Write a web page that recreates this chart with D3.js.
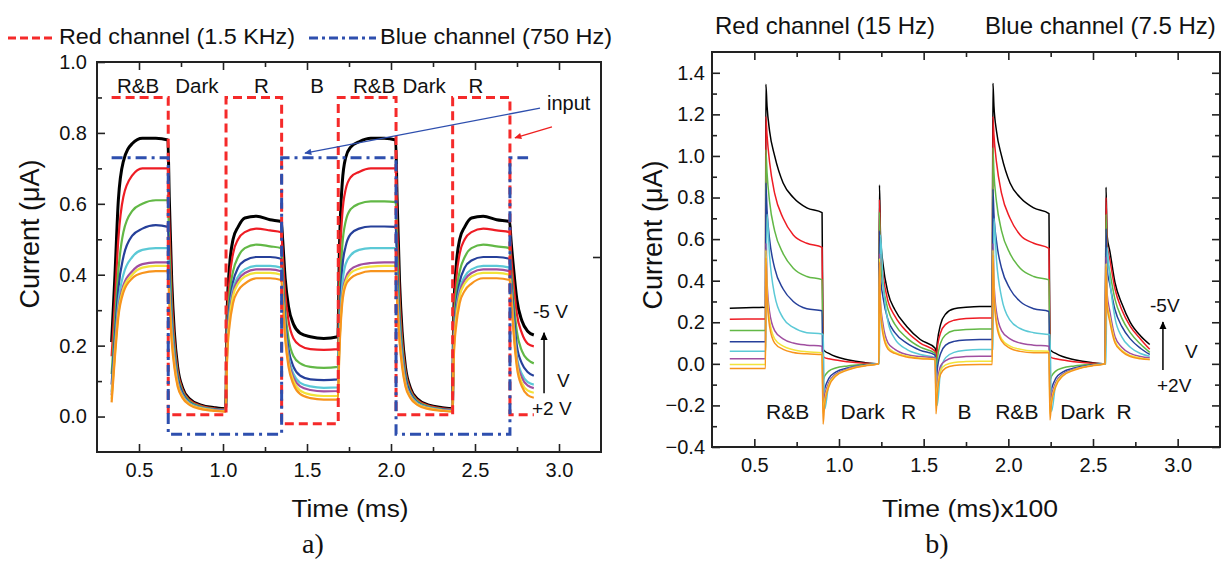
<!DOCTYPE html>
<html><head><meta charset="utf-8">
<script src="https://cdn.jsdelivr.net/npm/d3@7"></script>
<style>
body{margin:0;background:#fff}
svg{display:block}
text{font-family:"Liberation Sans",Arial,sans-serif;fill:#111}
text.serif{font-family:"Liberation Serif","DejaVu Serif",serif}
</style>
</head><body>
<svg id="c" width="1230" height="562"></svg>
<script>
// ---------------- DATA ----------------
const seriesNames = ["black","red","green","blue","cyan","magenta","yellow","orange"];
const seriesColors = ["#000000","#ee1c24","#62b846","#26409a","#5bc9d6","#a04fa0","#f2e33a","#f7941d"];

// Panel a) time axis (ms)
const timeA = [0.337,0.357,0.377,0.407,0.46,0.52,0.60,0.672,
  0.68,0.695,0.71,0.73,0.76,0.80,0.87,0.95,1.016,
  1.025,1.04,1.06,1.09,1.13,1.20,1.28,1.347,
  1.355,1.37,1.39,1.42,1.46,1.52,1.60,1.684,
  1.692,1.71,1.73,1.76,1.81,1.88,1.96,2.028,
  2.036,2.051,2.066,2.086,2.116,2.156,2.226,2.306,2.365,
  2.374,2.389,2.409,2.439,2.479,2.549,2.629,2.706,
  2.714,2.729,2.749,2.779,2.815,2.85];
const curveA_black = [0.21,0.40,0.61,0.72,0.77,0.785,0.785,0.78,
  0.62,0.38,0.24,0.14,0.08,0.05,0.032,0.025,0.022,
  0.30,0.43,0.50,0.535,0.56,0.565,0.555,0.55,
  0.50,0.39,0.31,0.26,0.235,0.225,0.22,0.225,
  0.45,0.66,0.73,0.76,0.775,0.785,0.785,0.78,
  0.62,0.38,0.24,0.14,0.08,0.05,0.032,0.025,0.022,
  0.30,0.43,0.50,0.535,0.56,0.565,0.555,0.55,
  0.50,0.42,0.33,0.27,0.24,0.23];
const curveA_red = [0.17,0.33,0.50,0.62,0.68,0.70,0.70,0.70,
  0.55,0.34,0.22,0.13,0.075,0.047,0.03,0.023,0.02,
  0.27,0.39,0.46,0.50,0.52,0.53,0.525,0.52,
  0.46,0.35,0.27,0.22,0.20,0.19,0.188,0.19,
  0.38,0.57,0.64,0.675,0.69,0.70,0.70,0.70,
  0.55,0.34,0.22,0.13,0.075,0.047,0.03,0.023,0.02,
  0.27,0.39,0.46,0.50,0.52,0.53,0.525,0.52,
  0.46,0.38,0.29,0.235,0.205,0.198];
const curveA_green = [0.12,0.27,0.41,0.52,0.58,0.60,0.61,0.61,
  0.48,0.30,0.20,0.12,0.07,0.044,0.028,0.021,0.019,
  0.24,0.35,0.41,0.45,0.475,0.485,0.48,0.475,
  0.41,0.30,0.22,0.17,0.15,0.14,0.137,0.14,
  0.30,0.48,0.55,0.585,0.60,0.607,0.607,0.605,
  0.48,0.30,0.20,0.12,0.07,0.044,0.028,0.021,0.019,
  0.24,0.35,0.41,0.45,0.475,0.485,0.48,0.475,
  0.42,0.33,0.24,0.185,0.16,0.15];
const curveA_blue = [0.09,0.23,0.36,0.45,0.51,0.53,0.54,0.535,
  0.42,0.27,0.18,0.11,0.065,0.04,0.026,0.02,0.018,
  0.22,0.32,0.38,0.42,0.44,0.45,0.45,0.445,
  0.38,0.27,0.19,0.14,0.115,0.105,0.103,0.105,
  0.25,0.42,0.48,0.515,0.53,0.536,0.536,0.535,
  0.42,0.27,0.18,0.11,0.065,0.04,0.026,0.02,0.018,
  0.22,0.32,0.38,0.42,0.44,0.45,0.45,0.445,
  0.39,0.30,0.20,0.15,0.125,0.115];
const curveA_cyan = [0.07,0.20,0.32,0.40,0.45,0.47,0.475,0.475,
  0.38,0.25,0.17,0.10,0.06,0.038,0.025,0.019,0.017,
  0.20,0.30,0.36,0.395,0.415,0.425,0.425,0.42,
  0.36,0.25,0.17,0.12,0.095,0.085,0.081,0.082,
  0.21,0.37,0.43,0.455,0.47,0.475,0.475,0.475,
  0.38,0.25,0.17,0.10,0.06,0.038,0.025,0.019,0.017,
  0.20,0.30,0.36,0.395,0.415,0.425,0.425,0.42,
  0.37,0.27,0.17,0.12,0.097,0.09];
const curveA_magenta = [0.06,0.19,0.30,0.37,0.41,0.43,0.435,0.435,
  0.35,0.23,0.16,0.095,0.057,0.036,0.024,0.018,0.016,
  0.19,0.29,0.35,0.385,0.405,0.415,0.415,0.41,
  0.35,0.24,0.16,0.11,0.085,0.075,0.071,0.072,
  0.19,0.34,0.39,0.415,0.427,0.433,0.435,0.435,
  0.35,0.23,0.16,0.095,0.057,0.036,0.024,0.018,0.016,
  0.19,0.29,0.35,0.385,0.405,0.415,0.415,0.41,
  0.36,0.26,0.16,0.11,0.087,0.08];
const curveA_yellow = [0.05,0.18,0.29,0.36,0.40,0.42,0.425,0.425,
  0.34,0.22,0.15,0.09,0.055,0.035,0.023,0.017,0.015,
  0.18,0.28,0.34,0.375,0.395,0.405,0.405,0.40,
  0.34,0.23,0.15,0.10,0.073,0.062,0.058,0.058,
  0.18,0.33,0.38,0.405,0.417,0.423,0.425,0.425,
  0.34,0.22,0.15,0.09,0.055,0.035,0.023,0.017,0.015,
  0.18,0.28,0.34,0.375,0.395,0.405,0.405,0.40,
  0.35,0.25,0.15,0.095,0.073,0.067];
const curveA_orange = [0.04,0.17,0.28,0.35,0.39,0.405,0.41,0.41,
  0.33,0.21,0.14,0.085,0.052,0.033,0.021,0.016,0.014,
  0.17,0.26,0.32,0.355,0.375,0.39,0.39,0.385,
  0.33,0.22,0.14,0.09,0.063,0.052,0.048,0.048,
  0.17,0.32,0.37,0.39,0.403,0.41,0.41,0.41,
  0.33,0.21,0.14,0.085,0.052,0.033,0.021,0.016,0.014,
  0.17,0.26,0.32,0.355,0.375,0.39,0.39,0.385,
  0.34,0.24,0.14,0.085,0.06,0.053];

// Panel a) input square waves
const redInputTime  = [0.337,0.674,0.674,1.018,1.018,1.349,1.349,1.686,1.686,2.03,2.03,2.367,2.367,2.708,2.708,2.85];
const redInputValue = [0.9,0.9,0.005,0.005,0.9,0.9,-0.02,-0.02,0.9,0.9,0.005,0.005,0.9,0.9,0.005,0.005];
const blueInputTime  = [0.337,0.674,0.674,1.349,1.349,2.03,2.03,2.708,2.708,2.816];
const blueInputValue = [0.73,0.73,-0.05,-0.05,0.73,0.73,-0.05,-0.05,0.73,0.73];

// Panel b) time axis (ms x100)
const timeB = [0.355,0.45,0.566, 0.568,
  0.575,0.59,0.62,0.67,0.73,0.81,0.90, 0.906,
  0.915,0.94,0.98,1.05,1.15,1.235, 1.239,
  1.245,1.26,1.29,1.33,1.40,1.48,1.568, 1.573,
  1.58,1.60,1.63,1.68,1.75,1.83,1.905, 1.909,
  1.915,1.93,1.96,2.01,2.07,2.15,2.24, 2.246,
  2.255,2.28,2.32,2.39,2.49,2.572, 2.577,
  2.583,2.60,2.63,2.67,2.72,2.78,2.835];
const curveB_black = [0.268,0.27,0.272, 1.345,
  1.24,1.12,1.00,0.87,0.80,0.75,0.727, 0.07,
  0.062,0.05,0.035,0.02,0.006,0.0, 0.86,
  0.62,0.48,0.34,0.26,0.18,0.117,0.075, 0.035,
  0.10,0.19,0.24,0.265,0.272,0.276,0.276, 1.35,
  1.24,1.12,1.00,0.87,0.80,0.75,0.723, 0.07,
  0.062,0.05,0.035,0.02,0.006,0.0, 0.85,
  0.62,0.54,0.39,0.29,0.20,0.135,0.093];
const curveB_red = [0.215,0.216,0.216, 1.19,
  1.10,0.97,0.82,0.70,0.62,0.58,0.56, 0.035,
  0.03,0.025,0.018,0.01,0.003,0.0, 0.79,
  0.56,0.43,0.30,0.23,0.155,0.10,0.06, 0.0,
  0.07,0.15,0.19,0.21,0.218,0.22,0.22, 1.19,
  1.10,0.97,0.82,0.70,0.62,0.58,0.555, 0.035,
  0.03,0.025,0.018,0.01,0.003,0.0, 0.80,
  0.58,0.50,0.36,0.26,0.18,0.12,0.07];
const curveB_green = [0.16,0.16,0.16, 1.03,
  0.92,0.78,0.64,0.53,0.46,0.42,0.405, -0.08,
  -0.06,-0.035,-0.02,-0.01,-0.003,0.0, 0.73,
  0.50,0.38,0.26,0.19,0.125,0.08,0.05, -0.04,
  0.02,0.10,0.14,0.16,0.165,0.168,0.168, 1.04,
  0.92,0.78,0.64,0.53,0.46,0.42,0.404, -0.08,
  -0.06,-0.035,-0.02,-0.01,-0.003,0.0, 0.72,
  0.52,0.44,0.31,0.22,0.15,0.095,0.055];
const curveB_blue = [0.106,0.106,0.106, 0.87,
  0.74,0.60,0.46,0.36,0.30,0.265,0.255, -0.15,
  -0.12,-0.07,-0.04,-0.02,-0.006,0.0, 0.64,
  0.42,0.32,0.21,0.15,0.10,0.065,0.042, -0.10,
  -0.03,0.05,0.09,0.108,0.115,0.117,0.117, 0.84,
  0.72,0.59,0.46,0.36,0.30,0.265,0.252, -0.15,
  -0.12,-0.07,-0.04,-0.02,-0.006,0.0, 0.65,
  0.46,0.38,0.26,0.18,0.12,0.075,0.045];
const curveB_cyan = [0.061,0.061,0.061, 0.061,
  0.72,0.52,0.33,0.22,0.175,0.15,0.144, 0.14,
  -0.22,-0.10,-0.05,-0.025,-0.008,0.0, 0.0,
  0.62,0.40,0.20,0.12,0.07,0.045,0.03, -0.05,
  -0.20,-0.03,0.03,0.055,0.065,0.069,0.069, 0.07,
  0.70,0.50,0.32,0.21,0.17,0.15,0.141, 0.14,
  -0.23,-0.10,-0.05,-0.025,-0.008,0.0, 0.0,
  0.56,0.40,0.22,0.13,0.08,0.05,0.037];
const curveB_magenta = [0.024,0.024,0.024, 0.58,
  0.40,0.25,0.16,0.12,0.10,0.09,0.085, -0.19,
  -0.15,-0.09,-0.05,-0.025,-0.008,0.0, 0.53,
  0.30,0.19,0.10,0.07,0.045,0.035,0.028, -0.16,
  -0.10,-0.01,0.015,0.03,0.035,0.037,0.037, 0.58,
  0.40,0.25,0.16,0.12,0.10,0.09,0.085, -0.19,
  -0.15,-0.09,-0.05,-0.025,-0.008,0.0, 0.515,
  0.34,0.25,0.13,0.08,0.05,0.035,0.029];
const curveB_yellow = [-0.003,-0.003,-0.003, 0.547,
  0.36,0.21,0.12,0.085,0.068,0.058,0.053, -0.24,
  -0.18,-0.10,-0.055,-0.028,-0.009,0.0, 0.507,
  0.28,0.16,0.08,0.055,0.038,0.028,0.022, -0.20,
  -0.13,-0.03,-0.005,0.007,0.011,0.013,0.013, 0.547,
  0.36,0.21,0.12,0.085,0.07,0.062,0.061, -0.24,
  -0.18,-0.10,-0.055,-0.028,-0.009,0.0, 0.483,
  0.30,0.22,0.11,0.065,0.04,0.028,0.021];
const curveB_orange = [-0.022,-0.022,-0.022, 0.51,
  0.33,0.18,0.10,0.07,0.055,0.048,0.045, -0.29,
  -0.20,-0.11,-0.06,-0.03,-0.01,0.0, 0.49,
  0.26,0.14,0.07,0.05,0.033,0.025,0.021, -0.24,
  -0.15,-0.05,-0.02,-0.008,-0.004,-0.003,-0.003, 0.523,
  0.34,0.19,0.11,0.075,0.06,0.053,0.053, -0.27,
  -0.19,-0.11,-0.06,-0.03,-0.01,0.0, 0.468,
  0.28,0.20,0.10,0.06,0.035,0.025,0.021];

// tick values
const xMajor = [0.5,1.0,1.5,2.0,2.5,3.0];
const xMinor = [0.75,1.25,1.75,2.25,2.75];
const yMajorA = [0.0,0.2,0.4,0.6,0.8,1.0];
const yMinorA = [0.1,0.3,0.5,0.7,0.9];
const yMajorB = [-0.4,-0.2,0.0,0.2,0.4,0.6,0.8,1.0,1.2,1.4];
const yMinorB = [-0.3,-0.1,0.1,0.3,0.5,0.7,0.9,1.1,1.3];
const rightTicksA = [0.45];

// region labels
const regionLabelsA = ["R&B","Dark","R","B","R&B","Dark","R"];
const regionPosA = [0.494,0.845,1.228,1.560,1.899,2.197,2.506];
const regionLabelsB = ["R&B","Dark","R","B","R&B","Dark","R"];
const regionPosB = [0.697,1.140,1.411,1.741,2.050,2.437,2.683];

// ---------------- DRAW ----------------
const curvesA = [curveA_black,curveA_red,curveA_green,curveA_blue,curveA_cyan,curveA_magenta,curveA_yellow,curveA_orange];
const curvesB = [curveB_black,curveB_red,curveB_green,curveB_blue,curveB_cyan,curveB_magenta,curveB_yellow,curveB_orange];

const svg = d3.select("#c");
const defs = svg.append("defs");
function marker(id, color, w, h){
  defs.append("marker").attr("id",id).attr("viewBox","0 0 10 10")
    .attr("refX",9).attr("refY",5).attr("markerWidth",w).attr("markerHeight",h)
    .attr("markerUnits","userSpaceOnUse").attr("orient","auto")
    .append("path").attr("d","M0,0.5 L10,5 L0,9.5 Z").attr("fill",color);
}
marker("arBlue","#2e4fae",11,7);
marker("arRed","#ee2020",11,7);
marker("arBlack","#000",8,9);

const xA = d3.scaleLinear().domain([0.25,3.25]).range([97,601]);
const yA = d3.scaleLinear().domain([-0.1,1.0]).range([452,62]);
const xB = d3.scaleLinear().domain([0.25,3.25]).range([712,1220]);
const yB = d3.scaleLinear().domain([-0.4,1.5]).range([447,52]);

function axes(x, y, yMaj, yMin, ypad, rightTicks){
  const [x0,x1] = x.range(), [y0,y1] = y.range();
  const g = svg.append("g");
  const style = s => { s.select(".domain").remove(); s.selectAll("line").attr("stroke","#222").attr("stroke-width",1.6); s.selectAll("text").attr("font-size",20).attr("fill","#111"); };
  g.append("g").attr("transform",`translate(0,${y0})`).call(d3.axisBottom(x).tickValues(xMajor).tickSize(-8).tickPadding(11).tickFormat(d3.format(".1f"))).call(style);
  g.append("g").attr("transform",`translate(0,${y0})`).call(d3.axisBottom(x).tickValues(xMinor).tickSize(-5).tickFormat("")).call(style);
  g.append("g").attr("transform",`translate(0,${y1})`).call(d3.axisTop(x).tickValues(xMajor).tickSize(-8).tickFormat("")).call(style);
  g.append("g").attr("transform",`translate(0,${y1})`).call(d3.axisTop(x).tickValues(xMinor).tickSize(-5).tickFormat("")).call(style);
  g.append("g").attr("transform",`translate(${x0},0)`).call(d3.axisLeft(y).tickValues(yMaj).tickSize(-8).tickPadding(ypad).tickFormat(d3.format(".1f"))).call(style);
  g.append("g").attr("transform",`translate(${x0},0)`).call(d3.axisLeft(y).tickValues(yMin).tickSize(-5).tickFormat("")).call(style);
  if (rightTicks) {
    g.append("g").attr("transform",`translate(${x1},0)`).call(d3.axisRight(y).tickValues(rightTicks).tickSize(-8).tickFormat("")).call(style);
  } else {
    g.append("g").attr("transform",`translate(${x1},0)`).call(d3.axisRight(y).tickValues(yMaj).tickSize(-8).tickFormat("")).call(style);
    g.append("g").attr("transform",`translate(${x1},0)`).call(d3.axisRight(y).tickValues(yMin).tickSize(-5).tickFormat("")).call(style);
  }
  return g;
}

function clip(id, x, y){
  defs.append("clipPath").attr("id",id).append("rect")
    .attr("x",x.range()[0]).attr("y",y.range()[1])
    .attr("width",x.range()[1]-x.range()[0]).attr("height",y.range()[0]-y.range()[1]);
}
clip("clipA",xA,yA); clip("clipB",xB,yB);

// ---- panel a curves
const gA = svg.append("g").attr("clip-path","url(#clipA)");
curvesA.forEach((vals,i)=>{
  const pts = timeA.map((t,k)=>[t,vals[k]]);
  gA.append("path").datum(pts)
    .attr("d", d3.line().x(d=>xA(d[0])).y(d=>yA(d[1])).curve(d3.curveMonotoneX))
    .attr("fill","none").attr("stroke",seriesColors[i])
    .attr("stroke-width", i===0 ? 3 : 2.2).attr("stroke-linejoin","round");
});
// inputs
gA.append("path").datum(redInputTime.map((t,k)=>[t,redInputValue[k]]))
  .attr("d", d3.line().x(d=>xA(d[0])).y(d=>yA(d[1])))
  .attr("fill","none").attr("stroke","#f52a2a").attr("stroke-width",3).attr("stroke-dasharray","9,5");
gA.append("path").datum(blueInputTime.map((t,k)=>[t,blueInputValue[k]]))
  .attr("d", d3.line().x(d=>xA(d[0])).y(d=>yA(d[1])))
  .attr("fill","none").attr("stroke","#2e4fae").attr("stroke-width",3).attr("stroke-dasharray","11,5,3,5");

// ---- panel b curves
const gB = svg.append("g").attr("clip-path","url(#clipB)");
curvesB.forEach((vals,i)=>{
  const pts = timeB.map((t,k)=>[t,vals[k]]);
  gB.append("path").datum(pts)
    .attr("d", d3.line().x(d=>xB(d[0])).y(d=>yB(d[1])).curve(d3.curveMonotoneX))
    .attr("fill","none").attr("stroke",seriesColors[i])
    .attr("stroke-width", 1.5).attr("stroke-linejoin","round");
});

// axes + frames
axes(xA,yA,yMajorA,yMinorA,10,rightTicksA);
axes(xB,yB,yMajorB,yMinorB,7,null);
[[xA,yA],[xB,yB]].forEach(([x,y])=>{
  svg.append("rect").attr("x",x.range()[0]).attr("y",y.range()[1])
    .attr("width",x.range()[1]-x.range()[0]).attr("height",y.range()[0]-y.range()[1])
    .attr("fill","none").attr("stroke","#222").attr("stroke-width",2);
});

// region labels
regionLabelsA.forEach((s,i)=>svg.append("text").attr("x",xA(regionPosA[i])).attr("y",93)
  .attr("text-anchor","middle").attr("font-size",20.5).text(s));
regionLabelsB.forEach((s,i)=>svg.append("text").attr("x",xB(regionPosB[i])).attr("y",419)
  .attr("text-anchor","middle").attr("font-size",21).text(s));

// annotations panel a
svg.append("text").attr("x",547).attr("y",110).attr("font-size",20).text("input");
svg.append("line").attr("x1",xA(2.887)).attr("y1",yA(0.870)).attr("x2",xA(1.488)).attr("y2",yA(0.743))
  .attr("stroke","#2e4fae").attr("stroke-width",1.3).attr("marker-end","url(#arBlue)");
svg.append("line").attr("x1",xA(2.958)).attr("y1",yA(0.817)).attr("x2",xA(2.738)).attr("y2",yA(0.786))
  .attr("stroke","#ee2020").attr("stroke-width",1.3).attr("marker-end","url(#arRed)");
svg.append("text").attr("x",533).attr("y",318).attr("font-size",19).text("-5 V");
svg.append("text").attr("x",557).attr("y",387).attr("font-size",19).text("V");
svg.append("text").attr("x",532).attr("y",415).attr("font-size",19).text("+2 V");
svg.append("line").attr("x1",xA(2.911)).attr("y1",yA(0.066)).attr("x2",xA(2.911)).attr("y2",yA(0.236))
  .attr("stroke","#000").attr("stroke-width",1.5).attr("marker-end","url(#arBlack)");

// annotations panel b
svg.append("text").attr("x",1150).attr("y",312).attr("font-size",19).text("-5V");
svg.append("text").attr("x",1185).attr("y",358).attr("font-size",19).text("V");
svg.append("text").attr("x",1157).attr("y",392).attr("font-size",19).text("+2V");
svg.append("line").attr("x1",xB(2.913)).attr("y1",yB(-0.03)).attr("x2",xB(2.913)).attr("y2",yB(0.201))
  .attr("stroke","#000").attr("stroke-width",1.5).attr("marker-end","url(#arBlack)");

// legend panel a
svg.append("line").attr("x1",8).attr("x2",52).attr("y1",38).attr("y2",38)
  .attr("stroke","#f52a2a").attr("stroke-width",3).attr("stroke-dasharray","8,4");
svg.append("text").attr("x",59).attr("y",44).attr("font-size",22).attr("textLength",236).attr("lengthAdjust","spacingAndGlyphs").text("Red channel (1.5 KHz)");
svg.append("line").attr("x1",309).attr("x2",376).attr("y1",38).attr("y2",38)
  .attr("stroke","#2e4fae").attr("stroke-width",3).attr("stroke-dasharray","9,4,3,4");
svg.append("text").attr("x",380).attr("y",44).attr("font-size",22).attr("textLength",232).attr("lengthAdjust","spacingAndGlyphs").text("Blue channel (750 Hz)");

// titles panel b
svg.append("text").attr("x",715).attr("y",34).attr("font-size",24).text("Red channel (15 Hz)");
svg.append("text").attr("x",985).attr("y",34).attr("font-size",24).text("Blue channel (7.5 Hz)");

// axis titles
svg.append("text").attr("x",350-58.5).attr("y",517).attr("font-size",23).attr("textLength",117).attr("lengthAdjust","spacingAndGlyphs").text("Time (ms)");
svg.append("text").attr("x",970-88).attr("y",517).attr("font-size",23).attr("textLength",176).attr("lengthAdjust","spacingAndGlyphs").text("Time (ms)x100");
svg.append("text").attr("transform","translate(30,234) rotate(-90)").attr("text-anchor","middle").attr("dy","0.35em").attr("font-size",27).text("Current (μA)");
svg.append("text").attr("transform","translate(653,235) rotate(-90)").attr("text-anchor","middle").attr("dy","0.35em").attr("font-size",27).text("Current (μA)");
svg.append("text").attr("class","serif").attr("x",313).attr("y",553).attr("text-anchor","middle").attr("font-size",28).text("a)");
svg.append("text").attr("class","serif").attr("x",937).attr("y",553).attr("text-anchor","middle").attr("font-size",28).text("b)");
</script>
</body></html>
